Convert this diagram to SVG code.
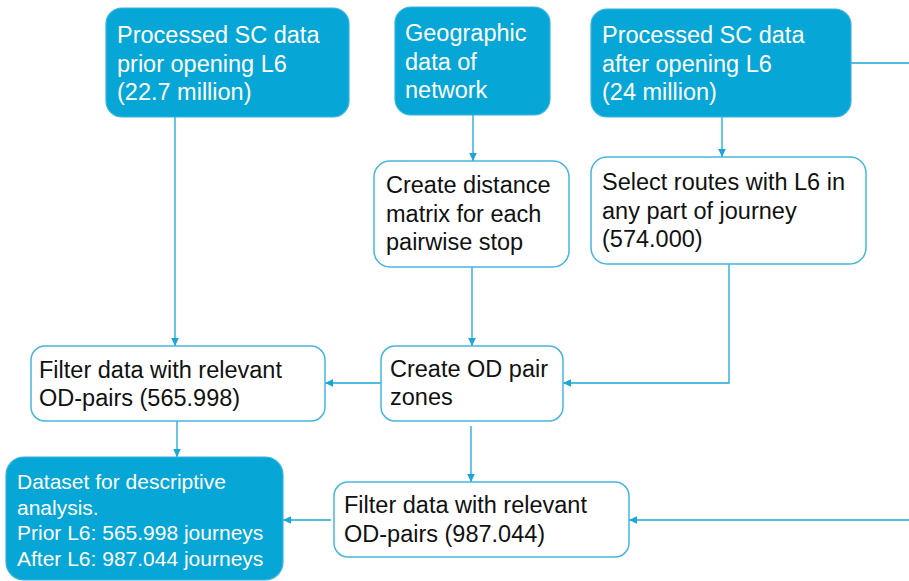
<svg xmlns="http://www.w3.org/2000/svg" width="909" height="581" viewBox="0 0 909 581">
  <style>
    .solid { fill: #06a6d6; stroke: #38b4df; stroke-width: 1.2; }
    .plain { fill: #ffffff; stroke: #45b6e0; stroke-width: 1.5; }
    .wt { font-family: "Liberation Sans", Arial, sans-serif; font-size: 23.5px; fill: #ffffff; }
    .bt { font-family: "Liberation Sans", Arial, sans-serif; font-size: 23.5px; fill: #111111; }
    .st { font-family: "Liberation Sans", Arial, sans-serif; font-size: 21px; fill: #ffffff; }
    .conn { fill: none; stroke: #1aa6d8; stroke-width: 1.3; }
  </style>
  <defs>
    <marker id="arrow" markerUnits="userSpaceOnUse" markerWidth="10" markerHeight="10" refX="9" refY="5" orient="auto">
      <path d="M1,1.2 L9,5 L1,8.8 Z" fill="#1aa6d8"/>
    </marker>
  </defs>
  <rect width="909" height="581" fill="#ffffff"/>

  <g id="connectors">
    <path class="conn" d="M175,117 V346" marker-end="url(#arrow)"/>
    <path class="conn" d="M473,115 V161" marker-end="url(#arrow)"/>
    <path class="conn" d="M722,117 V157" marker-end="url(#arrow)"/>
    <path class="conn" d="M472,267 V346" marker-end="url(#arrow)"/>
    <path class="conn" d="M729,264 V383 H563" marker-end="url(#arrow)"/>
    <path class="conn" d="M381,383 H325" marker-end="url(#arrow)"/>
    <path class="conn" d="M177,421 V457" marker-end="url(#arrow)"/>
    <path class="conn" d="M471,426 V482" marker-end="url(#arrow)"/>
    <path class="conn" d="M909,520 H629" marker-end="url(#arrow)"/>
    <path class="conn" d="M331,520 H283" marker-end="url(#arrow)"/>
    <path class="conn" d="M851,63 H909"/>
  </g>

  <g id="sc-prior">
    <rect class="solid" x="106" y="8" width="243" height="109" rx="16"/>
    <text class="wt" x="117" y="43">Processed SC data</text>
    <text class="wt" x="117" y="72">prior opening L6</text>
    <text class="wt" x="117" y="100">(22.7 million)</text>
  </g>

  <g id="geo-data">
    <rect class="solid" x="395" y="7" width="155" height="108" rx="16"/>
    <text class="wt" x="405" y="41">Geographic</text>
    <text class="wt" x="405" y="69.5">data of</text>
    <text class="wt" x="405" y="98">network</text>
  </g>

  <g id="sc-after">
    <rect class="solid" x="591" y="9" width="260" height="108" rx="16"/>
    <text class="wt" x="602" y="43">Processed SC data</text>
    <text class="wt" x="602" y="72">after opening L6</text>
    <text class="wt" x="602" y="100">(24 million)</text>
  </g>

  <g id="distance-matrix">
    <rect class="plain" x="374" y="161" width="195" height="106" rx="16"/>
    <text class="bt" x="386" y="193">Create distance</text>
    <text class="bt" x="386" y="221.5">matrix for each</text>
    <text class="bt" x="386" y="250">pairwise stop</text>
  </g>

  <g id="select-routes">
    <rect class="plain" x="591" y="157" width="275" height="107" rx="16"/>
    <text class="bt" x="602" y="190">Select routes with L6 in</text>
    <text class="bt" x="602" y="218.5">any part of journey</text>
    <text class="bt" x="602" y="247">(574.000)</text>
  </g>

  <g id="filter-prior">
    <rect class="plain" x="31" y="346" width="294" height="75" rx="14"/>
    <text class="bt" x="39" y="378">Filter data with relevant</text>
    <text class="bt" x="39" y="406">OD-pairs (565.998)</text>
  </g>

  <g id="od-zones">
    <rect class="plain" x="381" y="346" width="182" height="75" rx="14"/>
    <text class="bt" x="390" y="377">Create OD pair</text>
    <text class="bt" x="390" y="405">zones</text>
  </g>

  <g id="filter-after">
    <rect class="plain" x="334" y="482" width="295" height="75" rx="14"/>
    <text class="bt" x="344" y="513">Filter data with relevant</text>
    <text class="bt" x="344" y="542">OD-pairs (987.044)</text>
  </g>

  <g id="dataset">
    <rect class="solid" x="6" y="457" width="277" height="123" rx="18"/>
    <text class="st" x="17" y="489">Dataset for descriptive</text>
    <text class="st" x="17" y="514.5">analysis.</text>
    <text class="st" x="17" y="540">Prior L6: 565.998 journeys</text>
    <text class="st" x="17" y="565.5">After L6: 987.044 journeys</text>
  </g>
</svg>
